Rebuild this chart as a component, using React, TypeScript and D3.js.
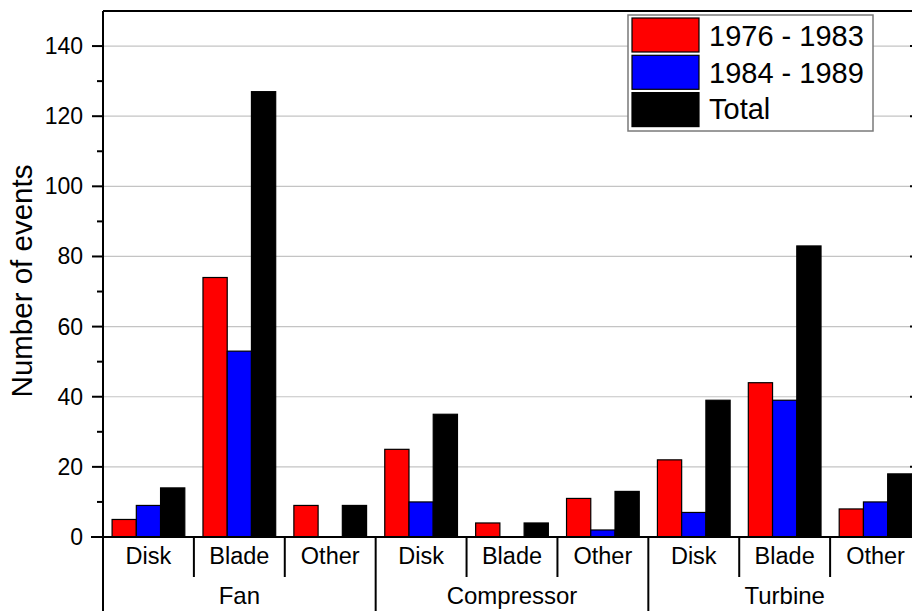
import React from "react";
import * as d3 from "d3";

const groups = ["Fan", "Compressor", "Turbine"];
const parts = ["Disk", "Blade", "Other"];
const seriesNames = ["1976 - 1983", "1984 - 1989", "Total"];
const seriesColors = ["#ff0000", "#0000ff", "#000000"];
// values per [group][part] for each series
const v1976 = [5, 74, 9, 25, 4, 11, 22, 44, 8];
const v1984 = [9, 53, 0, 10, 0, 2, 7, 39, 10];
const vTotal = [14, 127, 9, 35, 4, 13, 39, 83, 18];
const yTicks = [0, 20, 40, 60, 80, 100, 120, 140];
const yMinor = [10, 30, 50, 70, 90, 110, 130];

const W = 912;
const H = 611;
const left = 103;
const right = 921;
const top = 11;
const bottom = 537;
const font = "'Liberation Sans', Arial, Helvetica, sans-serif";

export default function App() {
  const keys = groups.flatMap((g) => parts.map((p) => `${g}-${p}`));
  const slot = d3.scaleBand<string>().domain(keys).range([left, right]).padding(0);
  const cat = d3
    .scaleBand<string>()
    .domain(keys)
    .range([left, right])
    .paddingInner(0.2)
    .paddingOuter(0.1);
  const inner = d3
    .scaleBand<string>()
    .domain(seriesNames)
    .range([0, cat.bandwidth()])
    .padding(0);
  const y = d3.scaleLinear().domain([0, 150]).range([bottom, top]);
  const series = [v1976, v1984, vTotal];

  const groupBounds = groups.map((g, gi) => {
    const k0 = keys[gi * 3];
    const k2 = keys[gi * 3 + 2];
    const x0 = slot(k0)!;
    const x1 = slot(k2)! + slot.bandwidth();
    return { g, x0, x1 };
  });

  return (
    <svg
      width={W}
      height={H}
      style={{ position: "absolute", left: 0, top: 0, background: "#fff" }}
      fontFamily={font}
    >
      <rect x={0} y={0} width={W} height={H} fill="#fff" />
      {/* gridlines */}
      {yTicks.slice(1).map((t) => (
        <line key={"g" + t} x1={left} x2={right} y1={y(t)} y2={y(t)} stroke="#c4c4c4" strokeWidth={1.2} />
      ))}
      {/* bars */}
      {keys.map((k, i) =>
        series.map((s, si) => {
          const val = s[i];
          if (val <= 0) return null;
          return (
            <rect
              key={k + si}
              x={cat(k)! + inner(seriesNames[si])!}
              y={y(val)}
              width={inner.bandwidth()}
              height={y(0) - y(val)}
              fill={seriesColors[si]}
              stroke="#000"
              strokeWidth={1.2}
            />
          );
        })
      )}
      {/* axes */}
      <line x1={left} x2={right + 10} y1={top} y2={top} stroke="#000" strokeWidth={2} />
      <line x1={left} x2={left} y1={top} y2={H} stroke="#000" strokeWidth={2} />
      <line x1={right} x2={right} y1={top} y2={bottom} stroke="#000" strokeWidth={2} />
      <line x1={left - 12} x2={right} y1={bottom} y2={bottom} stroke="#000" strokeWidth={2} />
      {yTicks.map((t) => (
        <g key={"t" + t}>
          <line x1={left - 11} x2={left} y1={y(t)} y2={y(t)} stroke="#000" strokeWidth={2} />
          <line x1={right - 11} x2={right} y1={y(t)} y2={y(t)} stroke="#000" strokeWidth={2} />
          <text x={left - 20} y={y(t) + 8} textAnchor="end" fontSize={23} fill="#000">
            {t}
          </text>
        </g>
      ))}
      {yMinor.map((t) => (
        <g key={"m" + t}>
          <line x1={left - 6} x2={left} y1={y(t)} y2={y(t)} stroke="#000" strokeWidth={2} />
          <line x1={right - 6} x2={right} y1={y(t)} y2={y(t)} stroke="#000" strokeWidth={2} />
        </g>
      ))}
      {/* x sub separators and labels */}
      {keys.map((k, i) => {
        const xs = slot(k)! + slot.bandwidth();
        const isGroupEnd = (i + 1) % 3 === 0;
        return (
          <g key={"x" + k}>
            <line x1={xs} x2={xs} y1={bottom} y2={isGroupEnd ? H : 577} stroke="#000" strokeWidth={2} />
            <text
              x={slot(k)! + slot.bandwidth() / 2}
              y={564}
              textAnchor="middle"
              fontSize={23.5}
              fill="#000"
            >
              {parts[i % 3]}
            </text>
          </g>
        );
      })}
      {groupBounds.map((b) => (
        <text key={b.g} x={(b.x0 + b.x1) / 2} y={604} textAnchor="middle" fontSize={24} fill="#000">
          {b.g}
        </text>
      ))}
      {/* y title */}
      <text
        transform={`translate(32, ${(top + bottom) / 2 + 7}) rotate(-90)`}
        textAnchor="middle"
        fontSize={29.5}
        fill="#000"
      >
        Number of events
      </text>
      {/* legend */}
      <g>
        <rect x={628} y={15} width={245} height={116} fill="#fff" stroke="#7a7a7a" strokeWidth={1.5} />
        {seriesNames.map((n, i) => (
          <g key={n}>
            <rect
              x={632}
              y={18 + i * 37.3}
              width={67}
              height={34}
              fill={seriesColors[i]}
              stroke="#000"
              strokeWidth={1.2}
            />
            <text x={709} y={46 + i * 36.7} fontSize={29} fill="#000">
              {n}
            </text>
          </g>
        ))}
      </g>
    </svg>
  );
}
